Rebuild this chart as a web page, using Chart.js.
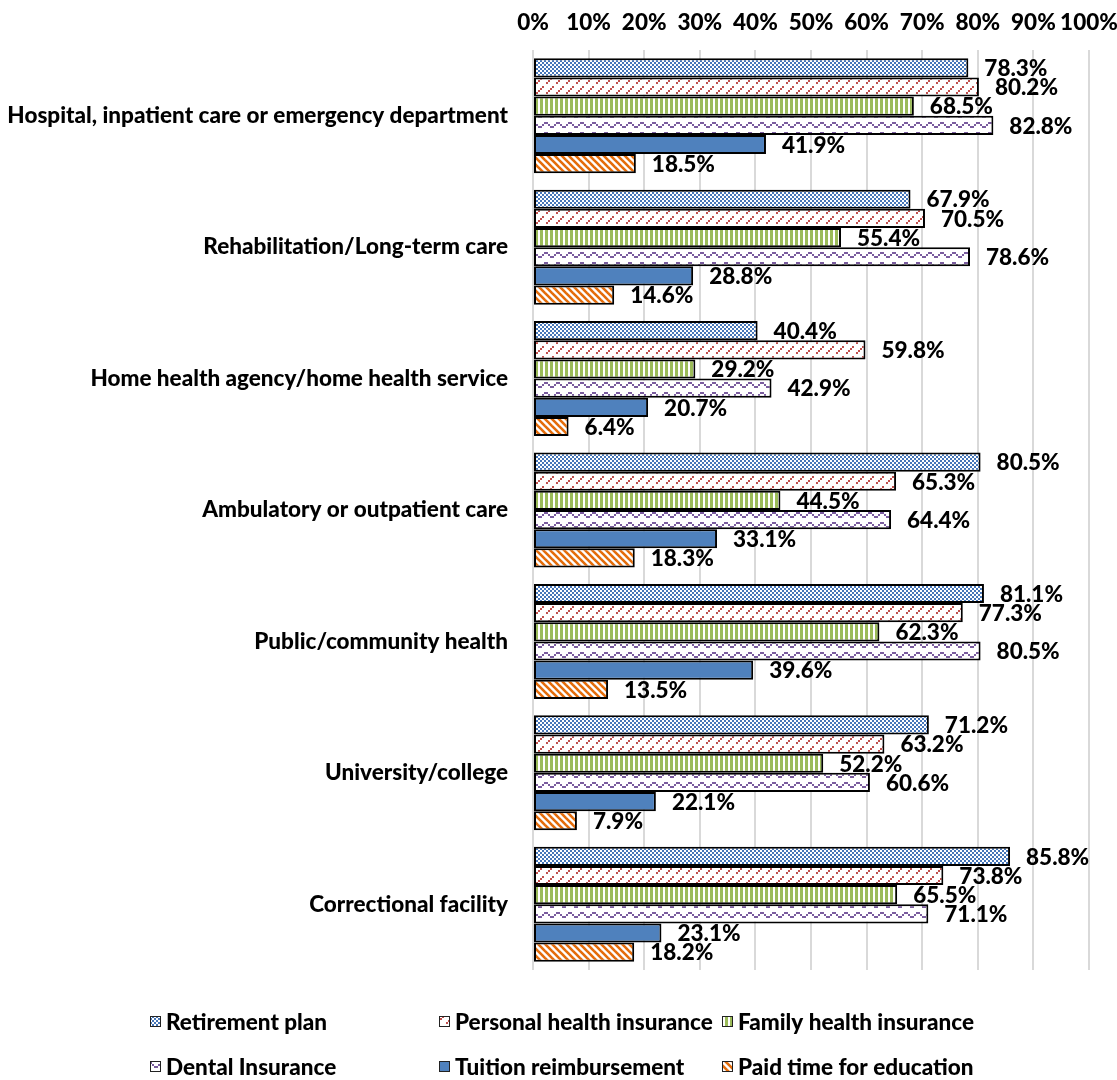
<!DOCTYPE html>
<html>
<head>
<meta charset="utf-8">
<script src="https://cdn.jsdelivr.net/npm/chart.js@4.4.0/dist/chart.umd.min.js"></script>
<style>
  html, body { margin: 0; padding: 0; background: #fff; }
  #wrap { width: 1117px; height: 1080px; position: relative; }
</style>
</head>
<body>
<div id="wrap"><canvas id="benefitsChart" width="1117" height="1080"></canvas></div>
<script>
// Benefits offered by work setting

const categories = [
    'Hospital, inpatient care or emergency department',
    'Rehabilitation/Long-term care',
    'Home health agency/home health service',
    'Ambulatory or outpatient care',
    'Public/community health',
    'University/college',
    'Correctional facility'
];

const seriesNames = [
    'Retirement plan',
    'Personal health insurance',
    'Family health insurance',
    'Dental Insurance',
    'Tuition reimbursement',
    'Paid time for education'
];

const retirementPlan = [78.3, 67.9, 40.4, 80.5, 81.1, 71.2, 85.8];
const personalHealth = [80.2, 70.5, 59.8, 65.3, 77.3, 63.2, 73.8];
const familyHealth = [68.5, 55.4, 29.2, 44.5, 62.3, 52.2, 65.5];
const dentalInsurance = [82.8, 78.6, 42.9, 64.4, 80.5, 60.6, 71.1];
const tuitionReimb = [41.9, 28.8, 20.7, 33.1, 39.6, 22.1, 23.1];
const paidTimeEdu = [18.5, 14.6, 6.4, 18.3, 13.5, 7.9, 18.2];

const tickValues = [0, 10, 20, 30, 40, 50, 60, 70, 80, 90, 100];

const FONT = 'Lato, "Open Sans", sans-serif';
const FONT_SIZE = 22.5;
const FONT_WEIGHT = '900';

// --- fill patterns, roughly like the Excel ones ---
function tile(w, h, draw) {
    const c = document.createElement('canvas');
    c.width = w;
    c.height = h;
    const g = c.getContext('2d');
    g.fillStyle = '#fff';
    g.fillRect(0, 0, w, h);
    draw(g);
    return document.createElement('canvas').getContext('2d').createPattern(c, 'repeat');
}

const patterns = [
    // small checker, blue
    tile(4, 4, function(g) {
        g.fillStyle = '#4676B8';
        g.fillRect(0, 0, 2, 2);
        g.fillRect(2, 2, 2, 2);
    }),
    // dashed upward diagonal, red
    tile(10, 10, function(g) {
        g.fillStyle = '#C0504D';
        [0, 1, 3, 4].forEach(function(i) {
            g.fillRect(2 * i, 8 - 2 * i, 2, 2);
        });
    }),
    // vertical lines, green
    tile(5, 4, function(g) {
        g.fillStyle = '#9BBB59';
        g.fillRect(0, 0, 3, 4);
    }),
    // wave, purple
    tile(12, 10, function(g) {
        g.fillStyle = '#7A5C9E';
        [[0, 6], [2, 4], [4, 2], [6, 2], [8, 4], [10, 6]].forEach(function(p) {
            g.fillRect(p[0], p[1], 2, 2);
        });
    }),
    // solid blue
    '#4F81BD',
    // wide downward diagonal, orange
    tile(7, 7, function(g) {
        g.strokeStyle = '#E46C0A';
        g.lineWidth = 2.6;
        [-7, 0, 7].forEach(function(o) {
            g.beginPath();
            g.moveTo(o - 1, -1);
            g.lineTo(o + 8, 8);
            g.stroke();
        });
    })
];

const seriesData = [retirementPlan, personalHealth, familyHealth, dentalInsurance, tuitionReimb, paidTimeEdu];

// value labels at bar ends
const valueLabels = {
    id: 'valueLabels',
    afterDatasetsDraw(chart) {
        const ctx = chart.ctx;
        ctx.save();
        ctx.font = FONT_WEIGHT + ' ' + FONT_SIZE + 'px ' + FONT;
        ctx.fillStyle = '#000';
        ctx.textAlign = 'left';
        ctx.textBaseline = 'middle';
        chart.data.datasets.forEach(function(ds, i) {
            const meta = chart.getDatasetMeta(i);
            meta.data.forEach(function(bar, j) {
                ctx.fillText(ds.data[j].toFixed(1) + '%', bar.x + 16, bar.y + 1);
            });
        });
        ctx.restore();
    }
};

// legend in two rows of three, as in the original
const gridLegend = {
    id: 'gridLegend',
    afterDraw(chart) {
        const ctx = chart.ctx;
        const colX = [166, 455, 738];
        const rowY = [1022, 1067];
        ctx.save();
        ctx.font = FONT_WEIGHT + ' ' + FONT_SIZE + 'px ' + FONT;
        ctx.textBaseline = 'middle';
        seriesNames.forEach(function(name, i) {
            const x = colX[i % 3];
            const y = rowY[Math.floor(i / 3)];
            ctx.fillStyle = patterns[i];
            ctx.fillRect(x - 16, y - 6, 11, 11);
            ctx.strokeStyle = '#222';
            ctx.lineWidth = 1;
            ctx.strokeRect(x - 15.5, y - 5.5, 10, 10);
            ctx.fillStyle = '#000';
            ctx.fillText(name, x, y + 1);
        });
        ctx.restore();
    }
};

new Chart(document.getElementById('benefitsChart'), {
    type: 'bar',
    data: {
        labels: categories,
        datasets: seriesNames.map(function(name, i) {
            return {
                label: name,
                data: seriesData[i],
                backgroundColor: patterns[i],
                borderColor: '#000',
                borderWidth: 2,
                borderSkipped: false,
                barPercentage: 1,
                categoryPercentage: 0.875
            };
        })
    },
    options: {
        indexAxis: 'y',
        responsive: false,
        animation: false,
        layout: {
            padding: { left: 0, right: 28, top: 0, bottom: 110 }
        },
        plugins: {
            legend: { display: false },
            tooltip: { enabled: false }
        },
        scales: {
            x: {
                position: 'top',
                min: 0,
                max: 100,
                afterFit: function(scale) {
                    scale.height = 50;
                    scale.paddingLeft = 0;
                    scale.paddingRight = 0;
                },
                afterBuildTicks: function(scale) {
                    scale.ticks = tickValues.map(function(v) { return { value: v }; });
                },
                grid: {
                    color: '#D9D9D9',
                    lineWidth: 2,
                    drawTicks: false
                },
                border: { display: false },
                ticks: {
                    padding: 14,
                    color: '#000',
                    autoSkip: false,
                    maxRotation: 0,
                    minRotation: 0,
                    font: { family: FONT, size: FONT_SIZE, weight: FONT_WEIGHT },
                    callback: function(v) { return v + '%'; }
                }
            },
            y: {
                afterFit: function(scale) { scale.width = 533; },
                grid: { display: false, drawTicks: false },
                border: { display: false },
                ticks: {
                    padding: 25,
                    color: '#000',
                    font: { family: FONT, size: FONT_SIZE, weight: FONT_WEIGHT }
                }
            }
        }
    },
    plugins: [valueLabels, gridLegend]
});
</script>
</body>
</html>
